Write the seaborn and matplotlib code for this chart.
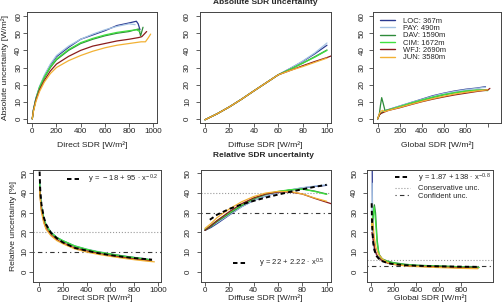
import pandas as pd
import matplotlib
matplotlib.use("Agg")
import matplotlib.pyplot as plt
import seaborn as sns
from matplotlib.lines import Line2D

sns.set_style("ticks")
plt.rcParams['font.family'] = ['Liberation Sans', 'DejaVu Sans']
plt.rcParams['mathtext.fontset'] = 'custom'
plt.rcParams['mathtext.rm'] = 'Liberation Sans'
plt.rcParams['mathtext.it'] = 'Liberation Sans'
plt.rcParams['mathtext.bf'] = 'Liberation Sans:bold'

stations = ['LOC', 'PAY', 'DAV', 'CIM', 'WFJ', 'JUN']
altitudes = [367, 490, 1590, 1672, 2690, 3580]
colors = ['#2B3990', '#A6C4E4', '#2E8B3A', '#40E040', '#8B1C1C', '#F2B134']

## absolute uncertainty [W/m2] vs direct SDR
dir_abs = {
    'LOC': ([0, 10, 30, 60, 100, 150, 200, 300, 400, 500, 600, 700, 800, 860, 875, 890],
            [0, 5.5, 12, 18.5, 25, 31.5, 36.3, 41.8, 46.5, 49, 51.5, 54.5, 56, 57, 55.5, 52]),
    'PAY': ([0, 10, 30, 60, 100, 150, 200, 300, 400, 500, 600, 700, 800, 850],
            [0, 5.5, 12, 19, 25.5, 32, 37, 42.5, 46.5, 49.5, 52, 54, 55.5, 55]),
    'DAV': ([0, 10, 30, 60, 100, 150, 200, 300, 400, 500, 600, 700, 800, 850, 880, 895, 915],
            [0, 5, 11.5, 18, 24, 30, 34.5, 40, 44, 46.5, 48.5, 50, 51, 52, 52.5, 48.5, 53.5]),
    'CIM': ([0, 10, 30, 60, 100, 150, 200, 300, 400, 500, 600, 700, 800, 860, 890],
            [0, 5, 11.5, 18.5, 24.5, 30.5, 35, 40.5, 44.5, 47, 49, 50.5, 51.5, 52, 51]),
    'WFJ': ([0, 10, 30, 60, 100, 150, 200, 300, 400, 500, 600, 700, 800, 880, 905, 945],
            [0, 5, 11, 17, 22.5, 28, 32, 36.5, 40, 42.5, 44, 45.5, 46.5, 47.5, 48, 51]),
    'JUN': ([0, 10, 30, 60, 100, 150, 200, 300, 400, 500, 600, 700, 800, 900, 935, 960, 978],
            [0, 4.5, 10, 16, 21.5, 26.5, 30, 34, 37, 39.5, 41.5, 43, 44, 45, 45, 47.5, 49.5]),
}

## absolute uncertainty [W/m2] vs diffuse SDR
dif_abs = {
    'LOC': ([0, 10, 20, 30, 40, 50, 60, 70, 80, 90, 100],
            [-0.5, 3, 7, 11.5, 16.3, 21, 25.7, 29.5, 33.5, 38, 43]),
    'PAY': ([0, 10, 20, 30, 40, 50, 60, 70, 80, 90, 100],
            [-0.5, 3, 7, 11.5, 16.3, 21, 25.7, 29.5, 33.7, 38.5, 44.3]),
    'DAV': ([0, 10, 20, 30, 40, 50, 60, 70, 80, 90, 100],
            [-0.5, 3, 7, 11.5, 16.3, 21, 25.7, 29, 32.5, 36.3, 40.2]),
    'CIM': ([0, 10, 20, 30, 40, 50, 60, 70, 80, 90, 100],
            [-0.5, 3, 7, 11.5, 16.3, 21, 25.7, 29, 32.5, 36, 40]),
    'WFJ': ([0, 10, 20, 30, 40, 50, 60, 70, 80, 90, 100, 104],
            [-0.5, 3, 7, 11.5, 16.3, 21, 25.7, 28.3, 31, 33.5, 35.8, 36.9]),
    'JUN': ([0, 10, 20, 30, 40, 50, 60, 70, 80, 90, 100],
            [-0.5, 3, 7, 11.5, 16.3, 21, 25.7, 28.3, 30.5, 33, 35.5]),
}

## absolute uncertainty [W/m2] vs global SDR
glo_abs = {
    'LOC': ([0, 15, 30, 60, 100, 200, 300, 400, 500, 600, 700, 800, 900, 980],
            [0, 2.5, 3.5, 4.5, 5.5, 7.5, 9.5, 11.5, 13.5, 15, 16.3, 17.3, 18, 18.8]),
    'PAY': ([0, 15, 30, 60, 100, 200, 300, 400, 500, 600, 700, 800, 900, 980],
            [0, 2.5, 3.5, 4.5, 5.5, 7.5, 9.5, 11.3, 13.2, 14.8, 16, 17, 17.8, 18.5]),
    'DAV': ([0, 15, 25, 36, 50, 66, 100, 200, 300, 400, 500, 600, 700, 800, 900, 1000],
            [0, 3, 8, 12.4, 9, 4.9, 5.3, 7, 9, 10.8, 12.5, 14, 15.2, 16.2, 16.8, 17]),
    'CIM': ([0, 15, 30, 60, 100, 200, 300, 400, 500, 600, 700, 800, 900, 1000],
            [0, 2.5, 3.5, 4.5, 5.3, 7.2, 9.2, 11, 12.7, 14.2, 15.3, 16.2, 16.8, 16.5]),
    'WFJ': ([0, 15, 30, 60, 100, 200, 300, 400, 500, 600, 700, 800, 900, 1000, 1020],
            [0, 2.3, 3.2, 4, 5, 6.5, 8.3, 10, 11.5, 12.8, 14, 15, 16, 16.8, 17.8]),
    'JUN': ([0, 15, 30, 45, 60, 100, 200, 300, 400, 500, 600, 700, 800, 900, 1000],
            [0, 3, 4.5, 5, 4.2, 5, 6.7, 8.5, 10.2, 11.8, 13.2, 14.5, 15.5, 16.3, 17]),
}

## relative uncertainty [%] vs direct SDR
dir_x = [5, 10, 20, 40, 60, 100, 150, 200, 300, 400, 500, 600, 700, 800, 900]
dir_rel = {
    'LOC': (dir_x + [940], [45, 40, 33, 27, 23.5, 20, 17.3, 15.7, 13, 11.3, 10, 9, 8, 7.2, 6.4, 6]),
    'PAY': (dir_x + [940], [46, 40.5, 33.5, 27.5, 24, 20.3, 17.5, 15.8, 13.2, 11.5, 10.2, 9.1, 8.1, 7.3, 6.5, 6.1]),
    'DAV': (dir_x + [940], [44.5, 39, 32.5, 26.8, 23.3, 19.8, 17.2, 15.6, 12.9, 11.2, 9.9, 8.9, 7.9, 7.1, 6.3, 5.8]),
    'CIM': (dir_x + [940], [45, 39.5, 33, 27, 23.6, 20, 17.4, 15.8, 13.1, 11.4, 10, 9, 8, 7.2, 6.4, 5.9]),
    'WFJ': (dir_x + [950], [43, 38, 31.5, 25.5, 22, 18.8, 16.2, 14.7, 12, 10.5, 9.2, 8.2, 7.3, 6.5, 5.8, 5.3]),
    'JUN': (dir_x + [970], [42, 37, 30.5, 24.8, 21.5, 18.3, 15.8, 14.2, 11.6, 10, 8.8, 7.8, 6.9, 6.1, 5.4, 5.0]),
}
dir_fit_x = [5, 10, 20, 40, 60, 100, 150, 200, 300, 400, 500, 600, 700, 800, 900, 950]
dir_fit_y = [50.9, 41.9, 34.5, 27.7, 24.0, 19.8, 17.0, 14.9, 12.1, 10.7, 9.4, 8.4, 7.6, 6.9, 6.4, 6.1]

## relative uncertainty [%] vs diffuse SDR
dif_x = [0, 5, 10, 20, 30, 40, 50, 60, 70, 80, 90, 100]
dif_rel = {
    'LOC': (dif_x, [21, 22.5, 24.5, 28.8, 33, 36.2, 38.5, 40.2, 41.5, 42.6, 43.3, 43.9]),
    'PAY': (dif_x, [21.5, 23, 25, 29, 33, 36.3, 38.6, 40.3, 41.6, 42.7, 43.5, 44.2]),
    'DAV': (dif_x, [21, 23, 25.5, 29.5, 33.5, 37, 39.3, 40.7, 41.5, 42, 41, 39.5]),
    'CIM': (dif_x, [21.5, 23.5, 26, 30, 34, 37.3, 39.5, 40.8, 41.7, 42, 40.8, 39.3]),
    'WFJ': (dif_x + [104], [21, 23.5, 26, 30.5, 34.5, 37.5, 39.5, 40.5, 40.5, 39.5, 37.3, 35.3, 34.5]),
    'JUN': (dif_x, [22, 24.5, 27.5, 31.9, 35.5, 38.2, 40, 40.8, 40.8, 39.5, 37.5, 35.8]),
}
dif_fit_x = [4, 10, 20, 30, 40, 50, 60, 70, 80, 90, 100]
dif_fit_y = [26.4, 29.0, 31.9, 34.2, 36.0, 37.7, 39.2, 40.6, 41.9, 43.1, 44.2]

## relative uncertainty [%] vs global SDR
glo_rel = {
    'LOC': ([10, 13, 18, 30, 50, 75, 100, 150, 200, 300, 400, 600, 800, 950],
            [60, 30, 18, 12, 8.5, 6.8, 5.8, 4.8, 4.2, 3.5, 3.1, 2.7, 2.4, 2.1]),
    'PAY': ([10, 14, 20, 30, 50, 75, 100, 150, 200, 300, 400, 600, 800, 950],
            [45, 25, 16, 11.5, 8.3, 6.6, 5.7, 4.7, 4.1, 3.4, 3.0, 2.6, 2.3, 2.0]),
    'DAV': ([5, 12, 22, 30, 40, 55, 70, 100, 150, 200, 300, 400, 600, 800, 960],
            [26, 23, 30, 34, 30, 16, 9, 6.5, 5.3, 4.6, 3.8, 3.3, 2.9, 2.5, 2.2]),
    'CIM': ([5, 15, 28, 40, 55, 75, 100, 150, 200, 300, 400, 600, 800, 960],
            [24, 28, 33, 26, 14, 8, 6.3, 5.1, 4.4, 3.6, 3.2, 2.8, 2.4, 2.1]),
    'WFJ': ([8, 15, 25, 40, 60, 100, 150, 200, 300, 400, 600, 800, 950],
            [20, 18, 14, 10, 7.5, 5.5, 4.3, 3.7, 3.1, 2.8, 2.4, 2.0, 1.8]),
    'JUN': ([5, 10, 18, 30, 45, 65, 100, 150, 200, 300, 400, 600, 800, 950],
            [22, 27, 24, 17, 12, 9, 6.5, 4.5, 3.8, 3.0, 2.6, 2.1, 1.7, 1.5]),
}
glo_fit_x = [6, 8, 12, 20, 30, 50, 75, 100, 150, 200, 300, 400, 600, 800, 950]
glo_fit_y = [34.8, 28.0, 20.8, 14.4, 10.95, 7.9, 6.2, 5.33, 4.38, 3.86, 3.31, 3.01, 2.70, 2.53, 2.45]

ref_lines = {'dir': (20, 10), 'dif': (40, 30), 'glo': (6, 3)}

fs = 5.8
lfs = 5.5
box_col = '#444444'
W, H = 504, 302


def box(l, r, t, b):
    return [l / W, 1 - b / H, (r - l) / W, (b - t) / H]


def long_df(data):
    rows = []
    for s in stations:
        xs, ys = data[s]
        rows += [(s, a, b) for a, b in zip(xs, ys)]
    return pd.DataFrame(rows, columns=['station', 'x', 'y'])


def panel(rect, data, xlim, ylim, xticks, yticks, xlabel, xlab_y, ypad, ylabel=None, ylab_x=None, hide_last=False):
    ax = fig.add_axes(rect)
    sns.lineplot(data=long_df(data), x='x', y='y', hue='station', hue_order=stations,
                 palette=colors, estimator=None, sort=False, lw=0.9, legend=False, ax=ax)
    ax.set_xlim(*xlim)
    ax.set_ylim(*ylim)
    ax.set_xticks(xticks)
    lab = [str(t) for t in xticks]
    if hide_last:
        lab[-1] = ''
    ax.set_xticklabels(lab)
    ax.set_yticks(yticks)
    ax.tick_params(axis='both', direction='out', length=3, width=0.6, color=box_col,
                   labelsize=fs, labelcolor='#222222')
    ax.tick_params(axis='x', pad=0.4)
    ax.tick_params(axis='y', pad=ypad, labelrotation=90)
    for t in ax.get_yticklabels():
        t.set_va('center')
    for sp in ax.spines.values():
        sp.set_visible(True)
        sp.set_color(box_col)
        sp.set_linewidth(0.7)
    ax.set_xlabel(xlabel, fontsize=fs + 0.3, color='#222222')
    ax.xaxis.set_label_coords(0.5, xlab_y)
    ax.xaxis.label.set_va('center')
    if ylabel:
        ax.set_ylabel(ylabel, fontsize=fs + 0.3, color='#222222')
        ax.yaxis.set_label_coords(ylab_x, 0.5)
        ax.yaxis.label.set_va('center')
    else:
        ax.set_ylabel('')
    return ax


def fit_line(ax, x, y):
    ax.plot(x, y, color='black', lw=1.4, dashes=(2.3, 1.6), zorder=5)


def hlines(ax, key):
    cons, conf = ref_lines[key]
    ax.axhline(cons, color='#9a9a9a', lw=0.8, ls=':', zorder=1)
    ax.axhline(conf, color='#333333', lw=0.8, dashes=(1, 3, 4, 3), zorder=1)


fit_handle = Line2D([], [], color='black', lw=1.4, dashes=(2.3, 1.6))
cons_handle = Line2D([], [], color='#9a9a9a', lw=0.8, ls=':')
conf_handle = Line2D([], [], color='#333333', lw=0.8, dashes=(1, 3, 4, 3))

fig = plt.figure(figsize=(5.04, 3.02), dpi=100)

xl_abs = 'Absolute uncertainty [W/m²]'
xl_rel = 'Relative uncertainty [%]'
top_lab = -22.4 / 111
bot_lab = -15.4 / 112.3

ax1 = panel(box(27.3, 157.3, 12, 123), dir_abs, (-41, 1033), (-2.4, 62.4), range(0, 1001, 200),
            range(0, 61, 10), 'Direct SDR [W/m²]', top_lab, 0.6, xl_abs, -22.3 / 130)
ax2 = panel(box(200, 331, 12, 123), dif_abs, (-4.1, 103.3), (-2.4, 62.4), range(0, 101, 20),
            range(0, 61, 10), 'Diffuse SDR [W/m²]', top_lab, 3.5)
ax3 = panel(box(373, 501, 12, 123), glo_abs, (-43, 1121), (-2.4, 62.4), range(0, 1001, 200),
            range(0, 61, 10), 'Global SDR [W/m²]', top_lab, 2.5, hide_last=True)
ax3.legend([Line2D([], [], color=c, lw=1.0) for c in colors],
           [f'{s}: {a}m' for s, a in zip(stations, altitudes)],
           loc='center left', bbox_to_anchor=(0.055, 0.755), frameon=False, fontsize=lfs,
           borderpad=0, borderaxespad=0, handlelength=1.96, handletextpad=1.05, labelspacing=0.0)

ax4 = panel(box(33.3, 161.3, 170, 282.3), dir_rel, (-48, 1028), (-5.4, 51.7), range(0, 1001, 200),
            range(0, 51, 10), 'Direct SDR [W/m²]', bot_lab, 0.3, xl_rel, -20 / 128)
hlines(ax4, 'dir')
fit_line(ax4, dir_fit_x, dir_fit_y)
ax4.legend([fit_handle], [r'$y\,=\,-\,18\,+\,95\,\cdot\,x^{-0.2}$'], loc='center left',
           bbox_to_anchor=(0.262, 0.917), frameon=False, fontsize=lfs, borderpad=0,
           borderaxespad=0, handlelength=1.57, handletextpad=1.25)

ax5 = panel(box(200.7, 330.7, 170, 282.3), dif_rel, (-3.5, 103.3), (-5.4, 51.7), range(0, 101, 20),
            range(0, 51, 10), 'Diffuse SDR [W/m²]', bot_lab, 3.5)
hlines(ax5, 'dif')
fit_line(ax5, dif_fit_x, dif_fit_y)
ax5.legend([fit_handle], [r'$y\,=\,22\,+\,2.22\,\cdot\,x^{0.5}$'], loc='center left',
           bbox_to_anchor=(0.248, 0.169), frameon=False, fontsize=lfs, borderpad=0,
           borderaxespad=0, handlelength=1.96, handletextpad=1.45)

ax6 = panel(box(367.3, 493.3, 170, 282.3), glo_rel, (-33, 1087), (-5.4, 51.7), range(0, 801, 200),
            range(0, 51, 10), 'Global SDR [W/m²]', bot_lab, 3.5)
hlines(ax6, 'glo')
fit_line(ax6, glo_fit_x, glo_fit_y)
ax6.legend([fit_handle, cons_handle, conf_handle],
           [r'$y\,=\,1.87\,+\,138\,\cdot\,x^{-0.8}$', 'Conservative unc.', 'Confident unc.'],
           loc='center left', bbox_to_anchor=(0.22, 0.860), frameon=False, fontsize=lfs,
           borderpad=0, borderaxespad=0, handlelength=1.96, handletextpad=1.1, labelspacing=0.05)

fig.text(265 / W, 1 - 3.5 / H, 'Absolute SDR uncertainty', ha='center', va='baseline',
         fontsize=fs + 0.2, weight='bold')
fig.text(263.3 / W, 1 - 157.3 / H, 'Relative SDR uncertainty', ha='center', va='baseline',
         fontsize=fs + 0.2, weight='bold')

plt.savefig('out.png', dpi=100)
